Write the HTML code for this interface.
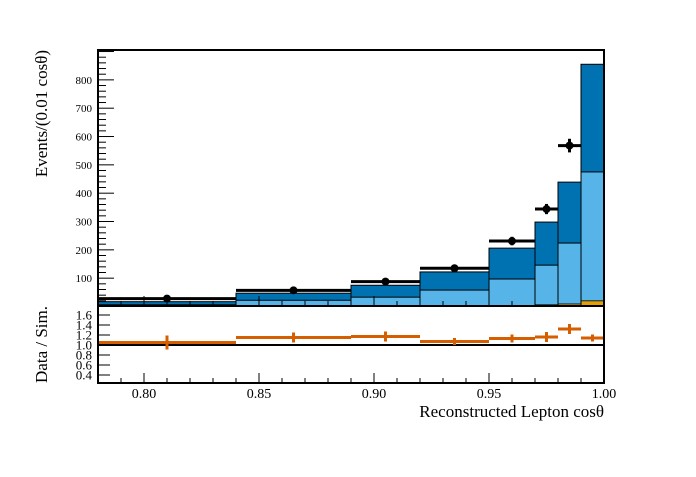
<!DOCTYPE html>
<html><head><meta charset="utf-8"><style>
html,body{margin:0;padding:0;background:#fff;}
svg text{font-family:"Liberation Serif",serif;fill:#000;}
</style></head><body>
<svg id="c" width="696" height="472" xmlns="http://www.w3.org/2000/svg"></svg>
<script>
const edges=[0.78,0.84,0.89,0.92,0.95,0.97,0.98,0.99,1.00];
const totalMC=[17,47,75,122,206,298,439,855];
const lightMC=[6,22,33,58,97,146,224,475];
const orangeMC=[0,0,0,1,3,6,9,20];
const dataX=[0.81,0.865,0.905,0.935,0.96,0.975,0.985];
const dataY=[28,57,88,135,231,344,568];
const dataErr=[5,7,9,11,15,18,24];
const ratioY=[1.05,1.15,1.17,1.07,1.13,1.16,1.32,1.14];
const ratioErr=[0.14,0.1,0.1,0.07,0.08,0.1,0.1,0.07];
const yTicks=[100,200,300,400,500,600,700,800];
const rTicks=[0.4,0.6,0.8,1.0,1.2,1.4,1.6];
const xTicks=[0.80,0.85,0.90,0.95,1.00];

const svg=document.getElementById('c');
const NS="http://www.w3.org/2000/svg";
const L=98,R=604,T=50,B=306,RB=383;
const X=v=>L+(v-0.78)/(0.22)*(R-L);
const Y=v=>306.5-v*0.2833;
const RY=v=>345-(v-1)*50;
function el(tag,a,p){const e=document.createElementNS(NS,tag);for(const k in a)e.setAttribute(k,a[k]);(p||svg).appendChild(e);return e;}

const hist=el('g',{});


for(let i=0;i<8;i++){
  const x0=X(edges[i]),x1=X(edges[i+1]);
  const d=el('rect',{x:x0,y:Y(totalMC[i]),width:x1-x0,height:Y(0)-Y(totalMC[i]),fill:'#0072b2',stroke:'#000','stroke-width':1},hist);
  
  
  const l=el('rect',{x:x0,y:Y(lightMC[i]),width:x1-x0,height:Y(0)-Y(lightMC[i]),fill:'#56b4e9',stroke:'#000','stroke-width':1},hist);
  
  
  if(orangeMC[i]>0){
    const o=el('rect',{x:x0,y:Y(orangeMC[i]),width:x1-x0,height:Y(0)-Y(orangeMC[i]),fill:'#e69f00',stroke:'#000','stroke-width':0.8},hist);
    
    
  }
}
for(let i=0;i<dataX.length;i++){
  const g=el('g',{});
  
  
  el('line',{x1:X(edges[i]),x2:X(edges[i+1]),y1:Y(dataY[i]),y2:Y(dataY[i]),stroke:'#000','stroke-width':3},g);
  el('line',{x1:X(dataX[i]),x2:X(dataX[i]),y1:Y(dataY[i]-dataErr[i]),y2:Y(dataY[i]+dataErr[i]),stroke:'#000','stroke-width':3},g);
  el('circle',{cx:X(dataX[i]),cy:Y(dataY[i]),r:4,fill:'#000'},g);
}
const ln=el('line',{x1:L,x2:R,y1:RY(1),y2:RY(1),stroke:'#000','stroke-width':2});


for(let i=0;i<8;i++){
  const g=el('g',{});
  
  
  const xc=(X(edges[i])+X(edges[i+1]))/2;
  const xm=i<dataX.length?X(dataX[i]):xc;
  el('line',{x1:X(edges[i]),x2:X(edges[i+1]),y1:RY(ratioY[i]),y2:RY(ratioY[i]),stroke:'#d55e00','stroke-width':3},g);
  el('line',{x1:xm,x2:xm,y1:RY(ratioY[i]-ratioErr[i]),y2:RY(ratioY[i]+ratioErr[i]),stroke:'#d55e00','stroke-width':3},g);
}
const f1=el('rect',{x:L,y:T,width:R-L,height:B-T,fill:'none',stroke:'#000','stroke-width':2});

const f2=el('rect',{x:L,y:B,width:R-L,height:RB-B,fill:'none',stroke:'#000','stroke-width':2});

for(let v=0;v<=900;v+=20){const y=Y(v);if(y<T)break;el('line',{x1:L,x2:L+(v%100===0?16:8),y1:y,y2:y,stroke:'#000','stroke-width':1});}
yTicks.forEach(v=>{const t=el('text',{x:L-6,y:Y(v)+4,'font-size':11,'text-anchor':'end'});t.textContent=v;
});
rTicks.forEach(v=>{el('line',{x1:L,x2:L+12,y1:RY(v),y2:RY(v),stroke:'#000','stroke-width':1});
const t=el('text',{x:L-6,y:RY(v)+4.5,'font-size':13,'text-anchor':'end'});t.textContent=v.toFixed(1);
});
for(let k=0;k<=22;k++){const v=0.78+k*0.01;const x=X(v);const major=(k%5===2);
 el('line',{x1:x,x2:x,y1:RB,y2:RB-(major?10:5),stroke:'#000','stroke-width':1});
 el('line',{x1:x,x2:x,y1:B,y2:B-(major?10:5),stroke:'#000','stroke-width':1});}
xTicks.forEach(v=>{const t=el('text',{x:X(v),y:398,'font-size':14,'text-anchor':'middle'});t.textContent=v.toFixed(2);
});
const xt=el('text',{x:R,y:417,'font-size':17,'text-anchor':'end'});xt.textContent='Reconstructed Lepton cosθ';

const yt=el('text',{x:0,y:0,'font-size':17,'text-anchor':'end',transform:'translate(47,50) rotate(-90)'});yt.textContent='Events/(0.01 cosθ)';

const rt=el('text',{x:0,y:0,'font-size':17,'text-anchor':'end',transform:'translate(47,306) rotate(-90)'});rt.textContent='Data / Sim.';

</script>
</body></html>
